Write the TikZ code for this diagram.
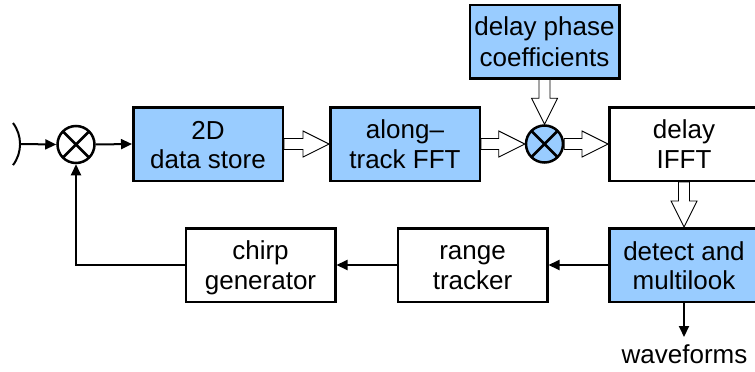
\documentclass[tikz,border=0pt]{standalone}
\usepackage{fontspec}
\setmainfont{Liberation Sans}
\usetikzlibrary{calc,arrows.meta}
\definecolor{boxblue}{RGB}{153,204,255}
\newcommand\lnstrut{\rule[-5pt]{0pt}{29pt}}
\begin{document}
\begin{tikzpicture}[x=1pt,y=-1pt,
  box/.style={draw, line width=2.5pt, minimum width=149.5pt, minimum height=73.5pt,
    inner sep=0pt, align=center, font=\fontsize{26}{29}\selectfont},
  bluebox/.style={box, fill=boxblue},
  whitebox/.style={box, fill=white},
  mult/.style={circle, draw, line width=2.5pt, minimum size=37pt, inner sep=0pt,
    path picture={\draw[line width=2.5pt]
      (path picture bounding box.north west) -- (path picture bounding box.south east)
      (path picture bounding box.north east) -- (path picture bounding box.south west);}},
  sig/.style={line width=2pt, -{Triangle[length=11pt,width=10pt]}},
  hollow/.style={draw, line width=0.9pt, fill=white, to path={
    ($(\tikztostart)!5.5pt!90:(\tikztotarget)$) --
    ($(\tikztotarget)!26pt!(\tikztostart)!5.5pt!90:(\tikztotarget)$) --
    ($(\tikztotarget)!26pt!(\tikztostart)!13pt!90:(\tikztotarget)$) --
    (\tikztotarget) --
    ($(\tikztotarget)!26pt!(\tikztostart)!13pt!-90:(\tikztotarget)$) --
    ($(\tikztotarget)!26pt!(\tikztostart)!5.5pt!-90:(\tikztotarget)$) --
    ($(\tikztostart)!5.5pt!-90:(\tikztotarget)$) -- cycle}}
]
\useasboundingbox (0,0) rectangle (755,372);

\node[bluebox] (store) at (208,144) {\lnstrut 2D\\\lnstrut data store};
\node[bluebox] (fft) at (405,144) {\lnstrut along--\\\lnstrut track FFT};
\node[bluebox] (coef) at (544.5,41.5) {\lnstrut delay phase\\\lnstrut coefficients};
\node[whitebox] (ifft) at (684,144) {\lnstrut delay\\\lnstrut IFFT};
\node[bluebox] (detect) at (684,265) {\lnstrut detect and\\\lnstrut multilook};
\node[whitebox] (range) at (472.5,265) {\lnstrut range\\\lnstrut tracker};
\node[whitebox] (chirp) at (260.5,265) {\lnstrut chirp\\\lnstrut generator};

\node[mult, fill=white] (m1) at (76,144.5) {};
\node[mult, fill=boxblue] (m2) at (544.5,144) {};

\coordinate (in) at (20,144);
\draw[line width=2pt] (in) ++(-7,-21) arc[start angle=37, end angle=-37, radius=35pt];
\coordinate (out) at (684,337);
\node[anchor=base, font=\fontsize{26}{29}\selectfont, inner sep=0pt] (wave) at (684.5,363) {waveforms};

\draw[sig] (in) -- (m1.west);
\draw[sig] (m1.east) -- (store.west);
\draw[sig] (detect.west) -- (range.east);
\draw[sig] (range.west) -- (chirp.east);
\draw[sig] (chirp.west) -| (m1.south);
\draw[sig] (detect.south) -- (out);

\draw[hollow] (store.east) to (fft.west);
\draw[hollow] (fft.east) to (m2.west);
\draw[hollow] (m2.east) to (ifft.west);
\draw[hollow] (coef.south) to (m2.north);
\draw[hollow] (ifft.south) to (detect.north);
\end{tikzpicture}
\end{document}
